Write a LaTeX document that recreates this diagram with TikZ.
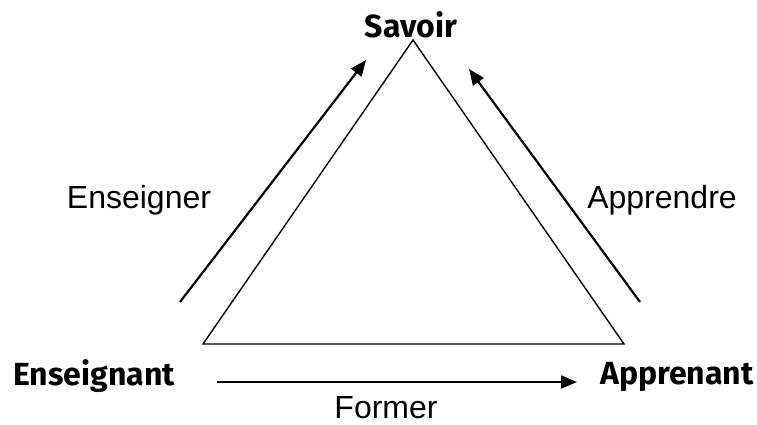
\documentclass[tikz,border=0pt]{standalone}
\usepackage{fontspec}
\setmainfont{Liberation Sans}
\newfontfamily\labfont{Fira Sans}
\usetikzlibrary{arrows.meta}
\begin{document}
\begin{tikzpicture}[x=1pt,y=-1pt,
  role/.style={font=\labfont\bfseries\fontsize{32}{36}\selectfont, inner sep=0pt},
  verb/.style={font=\fontsize{32}{36}\selectfont, inner sep=0pt},
  tri/.style={line width=1.4pt, line join=miter},
  flow/.style={line width=2.2pt, -{Triangle[length=16pt,width=13pt]}}]
\useasboundingbox (0,0) rectangle (757,425);
\coordinate (top) at (413,40);
\coordinate (bl) at (203,344);
\coordinate (br) at (624,344);
\draw[tri] (top) -- (bl) -- (br) -- cycle;
\node[role] (sav) at (411,25) {Savoir};
\node[role] (ens) at (94,376) {Enseignant};
\node[role] (app) at (677,377) {Apprenant};
\node[verb] (v1) at (139,200) {Enseigner};
\node[verb] (v2) at (662,200) {Apprendre};
\node[verb,anchor=base] (v3) at (386,418) {Former};
\coordinate (a1s) at (180,302);
\coordinate (a1e) at (366,60);
\coordinate (a2s) at (640,302);
\coordinate (a2e) at (469,69);
\coordinate (a3s) at (217,382);
\coordinate (a3e) at (577,382);
\draw[flow] (a1s) -- (a1e);
\draw[flow] (a2s) -- (a2e);
\draw[flow] (a3s) -- (a3e);
\end{tikzpicture}
\end{document}
